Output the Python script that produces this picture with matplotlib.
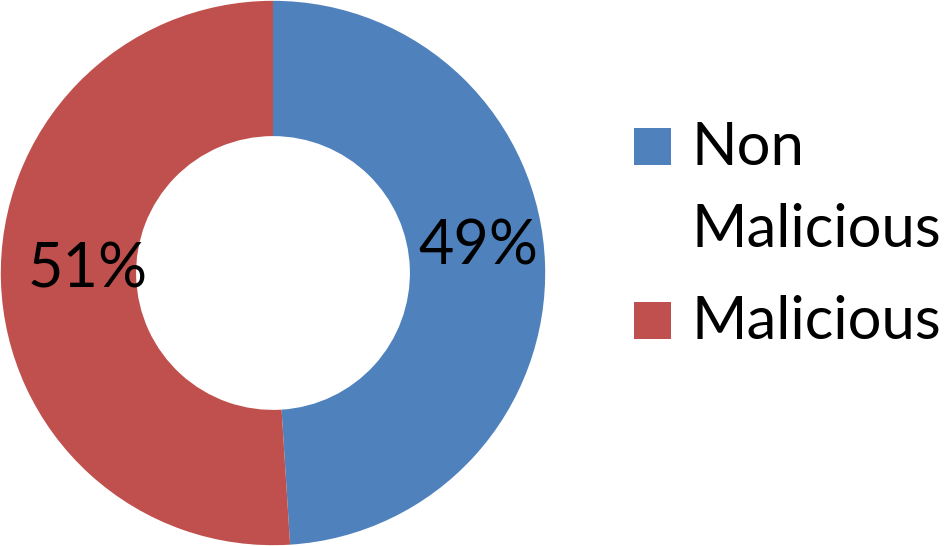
#!/usr/bin/env python3

import matplotlib
matplotlib.use('Agg')
import matplotlib.pyplot as plt
from matplotlib.patches import Rectangle

labels = [['Non', 'Malicious'], ['Malicious']]
shares = [49, 51]
colors = ['#4F81BD', '#C0504D']

plt.rcParams['font.family'] = ['Lato', 'DejaVu Sans']
fs = 43

fig = plt.figure(figsize=(9.45, 5.46), dpi=100)
ax = fig.add_axes([0, 0, 546 / 945, 1])
wedges, texts, pcts = ax.pie(shares, colors=colors, startangle=90, counterclock=False,
                             radius=1, wedgeprops=dict(width=0.497, linewidth=0),
                             autopct='%d%%', pctdistance=0.75,
                             textprops=dict(fontsize=44, color='black'))
# nudge the percentage labels to where the original puts them
nudges = [(0.005, 0.072), (0.07, 0.035)]
for t, (dx, dy) in zip(pcts, nudges):
    x, y = t.get_position()
    t.set_position((x + dx, y + dy))
ax.set_xlim(-1.003, 1.003)
ax.set_ylim(-1.003, 1.003)
ax.set_aspect('equal')
ax.axis('off')

# legend drawn by hand, key aligned with first line as in the original
W, H = 945, 546
key_tops = [128, 302]
line_gap = 82
for top, lines, col in zip(key_tops, labels, colors):
    fig.add_artist(Rectangle((634 / W, (H - top - 37) / H), 37 / W, 37 / H,
                             transform=fig.transFigure, color=col, lw=0))
    for i, line in enumerate(lines):
        base = top + 37 + i * line_gap
        fig.text(692 / W, (H - base) / H, line, fontsize=fs, ha='left', va='baseline',
                 transform=fig.transFigure)

fig.savefig('out.png', dpi=100)
